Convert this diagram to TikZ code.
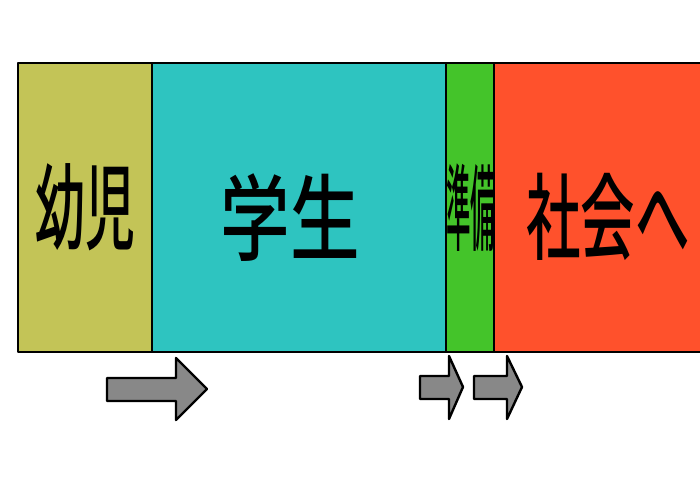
\documentclass[tikz,border=0pt]{standalone}
\usepackage{fontspec}
\usepackage{graphicx}
\newfontfamily\jpfont{Noto Sans CJK JP Medium}
\usetikzlibrary{positioning}
\definecolor{stage_infant}{RGB}{195,196,87}
\definecolor{stage_student}{RGB}{46,196,192}
\definecolor{stage_prep}{RGB}{68,196,42}
\definecolor{stage_society}{RGB}{255,81,44}
\definecolor{arrow_gray}{RGB}{136,136,136}
\begin{document}
\begin{tikzpicture}[x=1pt,y=-1pt,line width=2.6pt,line join=round]
    \tikzstyle{stage}=[draw=black, rectangle, minimum height=289pt, inner sep=0pt, text=black, font=\jpfont\fontsize{94}{94}\selectfont]
    \tikzstyle{flow}=[draw=black, fill=arrow_gray, line width=2.4pt]
    \useasboundingbox (0,0) rectangle (700,495);

    \node[stage,fill=stage_infant,minimum width=134pt]  (infant)  at (85,207.5)  {\raisebox{0pt}{\scalebox{.53}[1]{幼児}}};
    \node[stage,fill=stage_student,minimum width=295pt] (student) at (299.5,207.5) {};
    \node[stage,fill=stage_prep,minimum width=47pt]     (prep)    at (470.5,207.5) {\raisebox{-2pt}{\scalebox{.26}[1]{準備}}};
    \node[stage,fill=stage_society,minimum width=212pt] (society) at (600,207.5) {};
    \node[text=black, font=\jpfont\fontsize{94}{94}\selectfont] (studentlabel) at (290,218) {\scalebox{.74}[1]{学生}};
    \node[text=black, font=\jpfont\fontsize{94}{94}\selectfont] (societylabel) at (608,217) {\scalebox{.58}[1]{社会へ}};

    % arrows under the stages
    \draw[flow] (107,378) -- (176,378) -- (176,358) -- (207,389) -- (176,420) -- (176,401) -- (107,401) -- cycle;
    \draw[flow] (420,376) -- (449,376) -- (449,356) -- (463,387) -- (449,419) -- (449,399) -- (420,399) -- cycle;
    \draw[flow] (474,376) -- (507,376) -- (507,356) -- (522,387) -- (507,419) -- (507,399) -- (474,399) -- cycle;
\end{tikzpicture}
\end{document}
